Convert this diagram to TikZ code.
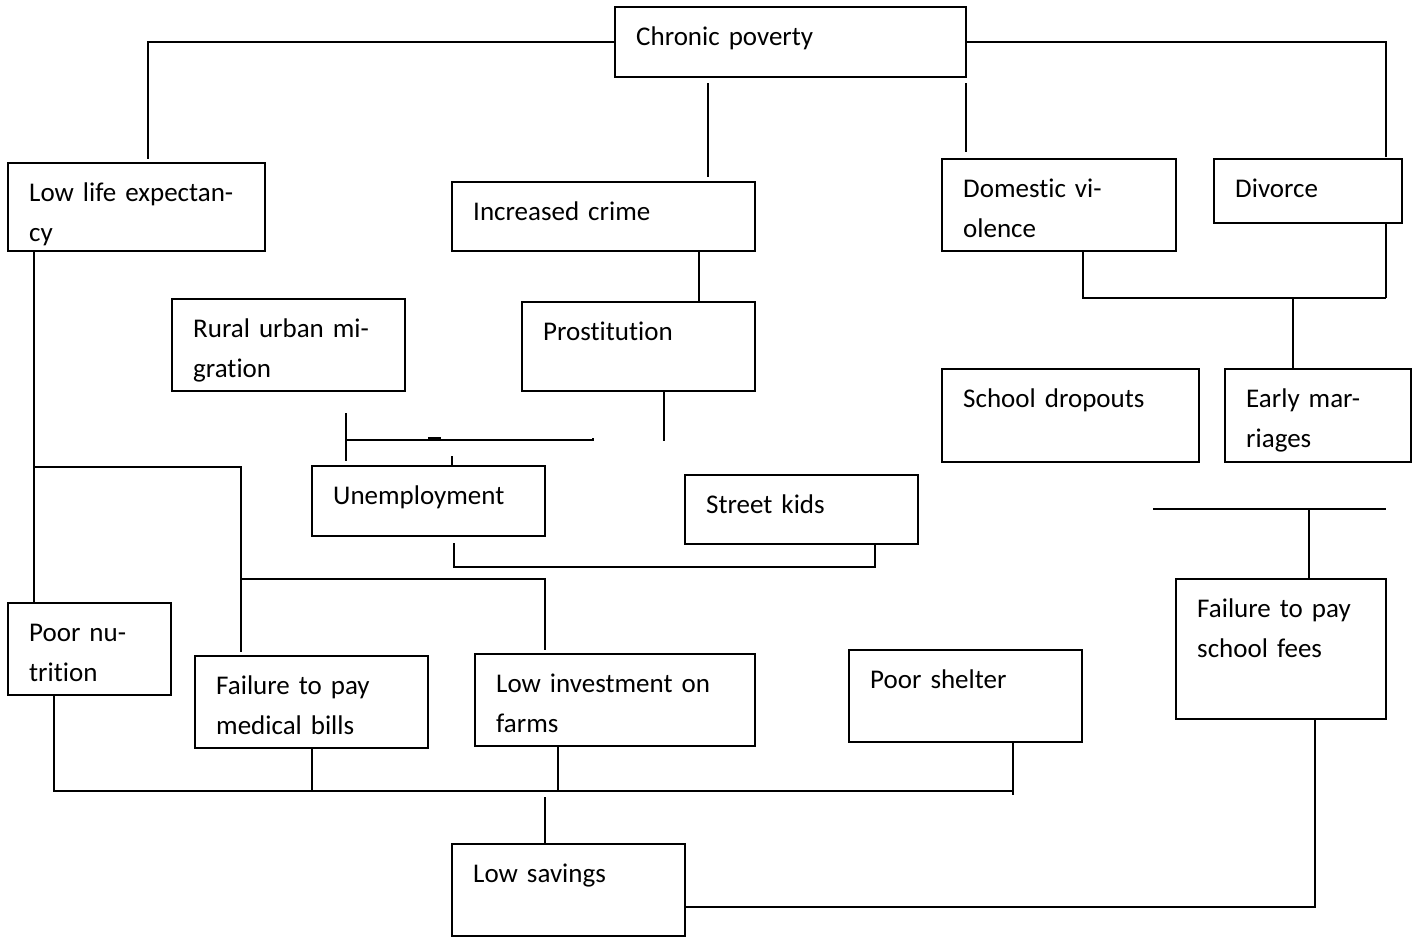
\documentclass[tikz,border=0pt]{standalone}
\usepackage{fontspec}
\setmainfont[Ligatures=NoCommon]{Carlito}
\usetikzlibrary{calc}
\tikzset{
  box/.style={draw, line width=2pt, rectangle, inner sep=0pt, outer sep=0pt, anchor=north west},
  txt/.style={inner sep=0pt, anchor=base west, text width=300pt, align=left, font=\fontsize{27}{40}\selectfont},
  conn/.style={line width=2pt}
}
\newcommand{\cbox}[6]{%
  \node[box, minimum width={(#4-#2)*1pt}, minimum height={(#5-#3)*1pt}] (#1) at (#2,#3) {};
  \node[txt] (#1-t) at ($(#1.north west)+(21,38)$) {#6};
}
\begin{document}
\begin{tikzpicture}[x=1pt,y=-1pt]
\useasboundingbox (0,0) rectangle (1420,938);
\fill[white] (0,0) rectangle (1420,938);
% boxes
\cbox{cp}{615}{7}{966}{77}{Chronic poverty}
\cbox{lle}{8}{163}{265}{251}{Low life expectan-\\cy}
\cbox{ic}{452}{182}{755}{251}{Increased crime}
\cbox{dv}{942}{159}{1176}{251}{Domestic vi-\\olence}
\cbox{dvc}{1214}{159}{1402}{223}{Divorce}
\cbox{rum}{172}{299}{405}{391}{Rural urban mi-\\gration}
\cbox{pr}{522}{302}{755}{391}{Prostitution}
\cbox{sd}{942}{369}{1199}{462}{School dropouts}
\cbox{em}{1225}{369}{1411}{462}{Early mar-\\riages}
\cbox{un}{312}{466}{545}{536}{Unemployment}
\cbox{sk}{685}{475}{918}{544}{Street kids}
\cbox{pn}{8}{603}{171}{695}{Poor nu-\\trition}
\cbox{fm}{195}{656}{428}{748}{Failure to pay\\medical bills}
\cbox{li}{475}{654}{755}{746}{Low investment on\\farms}
\cbox{ps}{849}{650}{1082}{742}{Poor shelter}
\cbox{fs}{1176}{579}{1386}{719}{Failure to pay\\school fees}
\cbox{ls}{452}{844}{685}{936}{Low savings}
% coordinates
\coordinate (lleTop) at ($(lle.north west)+(140,-4)$);
\coordinate (dvcTop) at ($(dvc.north east)+(-16,-2)$);
\coordinate (cpA) at ($(cp.south west)+(93,6)$);
\coordinate (icTop) at ($(ic.north west)+(256,-5)$);
\coordinate (cpB) at ($(cp.south east)+(0,6)$);
\coordinate (dvTop) at ($(dv.north west)+(24,-7)$);
\coordinate (icBot) at ($(ic.south west)+(247,0)$);
\coordinate (prTop) at ($(pr.north west)+(177,0)$);
\coordinate (dvBot) at ($(dv.south west)+(141,0)$);
\coordinate (dvcBot) at ($(dvc.south east)+(-16,0)$);
\coordinate (jdiv) at ($(dvcBot)+(0,75)$);
\coordinate (emTop) at ($(em.north west)+(68,0)$);
\coordinate (prBot) at ($(pr.south west)+(142,0)$);
\coordinate (prEnd) at ($(prBot)+(0,50)$);
\coordinate (unV1) at ($(un.north west)+(34,-53)$);
\coordinate (unV2) at ($(un.north west)+(34,-5)$);
\coordinate (unH1) at ($(un.north west)+(34,-26)$);
\coordinate (unH2) at ($(un.north west)+(281,-28)$);
\coordinate (unT) at ($(un.north west)+(140,0)$);
\coordinate (unT2) at ($(unT)+(0,-10)$);
\coordinate (lleBot) at ($(lle.south west)+(26,0)$);
\coordinate (pnTop) at ($(pn.north west)+(26,0)$);
\coordinate (j1) at ($(lleBot)+(0,216)$);
\coordinate (fmTop) at ($(fm.north west)+(46,-4)$);
\coordinate (j2) at ($(fmTop)+(0,-73)$);
\coordinate (liTop) at ($(li.north west)+(70,-4)$);
\coordinate (unBot) at ($(un.south west)+(142,7)$);
\coordinate (skBot) at ($(sk.south west)+(190,1)$);
\coordinate (unJ) at ($(unBot)+(0,24)$);
\coordinate (fsL) at ($(fs.north west)+(-23,-70)$);
\coordinate (fsR) at ($(fs.north east)+(0,-70)$);
\coordinate (fsTop) at ($(fs.north west)+(133,0)$);
\coordinate (pnBot) at ($(pn.south west)+(46,0)$);
\coordinate (bl) at ($(pnBot)+(0,96)$);
\coordinate (psBot) at ($(ps.south west)+(164,0)$);
\coordinate (psEnd) at ($(psBot)+(0,53)$);
\coordinate (fmBot) at ($(fm.south west)+(117,0)$);
\coordinate (liBot) at ($(li.south west)+(83,0)$);
\coordinate (lsTop) at ($(ls.north west)+(93,0)$);
\coordinate (lsT2) at ($(lsTop)+(0,-47)$);
\coordinate (lsR) at ($(ls.north east)+(0,63)$);
\coordinate (fsBot) at ($(fs.south west)+(139,0)$);
% connectors
\draw[conn] (cp.west) -| (lleTop);
\draw[conn] (cp.east) -| (dvcTop);
\draw[conn] (cpA) -- (icTop);
\draw[conn] (cpB) -- (cpB |- dvTop);
\draw[conn] (icBot) -- (prTop);
\draw[conn] (dvBot) |- (jdiv);
\draw[conn] (dvcBot) -- (jdiv);
\draw[conn] (emTop) -- (emTop |- jdiv);
\draw[conn] (prBot) -- (prEnd);
\draw[conn] (unV1) -- (unV2);
\draw[conn] (unH1) -- (unH1 -| unH2) -- (unH2);
\draw[line width=3.5pt] ($(unH1)+(82,-1)$) -- ($(unH1)+(95,-1)$);
\draw[conn] (unT) -- (unT2);
\draw[conn] (lleBot) -- (pnTop);
\draw[conn] (j1) -| (fmTop);
\draw[conn] (j2) -| (liTop);
\draw[conn] (unBot) |- (unJ -| skBot) -- (skBot);
\draw[conn] (fsL) -- (fsR);
\draw[conn] (fsTop) -- (fsTop |- fsL);
\draw[conn] (pnBot) |- (bl -| psBot);
\draw[conn] (psBot) -- (psEnd);
\draw[conn] (fmBot) -- (fmBot |- bl);
\draw[conn] (liBot) -- (liBot |- bl);
\draw[conn] (lsTop) -- (lsT2);
\draw[conn] (lsR) -| (fsBot);
\end{tikzpicture}
\end{document}
